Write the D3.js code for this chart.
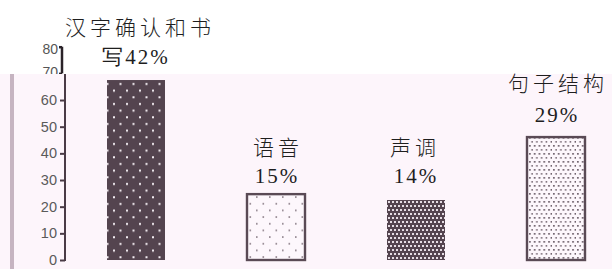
<!DOCTYPE html>
<html><head><meta charset="utf-8">
<script src="https://cdn.jsdelivr.net/npm/d3@7"></script>
<style>html,body{margin:0;padding:0;background:#fff;}svg{display:block;}</style>
</head><body>
<script>
const categories = ["汉字确认和书写", "语音", "声调", "句子结构"];
const values = [67.5, 24.7, 22.5, 46.1];
const labelLine1 = ["汉字确认和书", "语音", "声调", "句子结构"];
const labelLine2 = ["写42%", "15%", "14%", "29%"];
const ticksLower = [0, 10, 20, 30, 40, 50, 60];
const ticksUpper = [70, 80];

const W = 612, H = 269;
const svg = d3.select("body").append("svg").attr("width", W).attr("height", H);
const defs = svg.append("defs");
const dark = "#54444f", pale = "#fdf7fc";

function pat(id, w, h, bg, fg, dots, r) {
  const p = defs.append("pattern").attr("id", id).attr("patternUnits", "userSpaceOnUse")
    .attr("width", w).attr("height", h);
  p.append("rect").attr("width", w).attr("height", h).attr("fill", bg);
  dots.forEach(d => p.append("rect").attr("x", d[0]).attr("y", d[1]).attr("width", r).attr("height", r).attr("fill", fg));
}
pat("p1", 13, 13.33, dark, "#f4eef3", [[2.5, 3], [9, 9.67]], 2);
pat("p2", 13, 13.33, pale, "#8a7d87", [[2.5, 3], [9, 9.67]], 1.6);
pat("p3", 4, 8, dark, "#e6dde4", [[0, 1], [2, 5]], 2);
pat("p4", 4.8, 8, pale, "#6f616c", [[1, 1], [3.4, 5]], 1.7);
const fills = ["url(#p1)", "url(#p2)", "url(#p3)", "url(#p4)"];
const strokes = [null, "#5a4a55", null, "#5a4a55"];

svg.append("rect").attr("width", W).attr("height", H).attr("fill", "#ffffff");

const y = d3.scaleLinear().domain([0, 80]).range([260, 46.7]);
const x = d3.scalePoint().domain(categories).range([136, 556]);
const bw = 58;

// upper broken axis segment (70-80)
const upper = svg.append("g").attr("transform", "translate(62,0)")
  .call(d3.axisLeft(y).tickValues(ticksUpper).tickSize(4).tickPadding(6).tickSizeOuter(0));
upper.select(".domain").remove();
upper.append("line").attr("x1", 0).attr("x2", 0).attr("y1", y(80)).attr("y2", y(70)).attr("stroke", "#2a2228").attr("stroke-width", 2.5);
upper.selectAll(".tick line").attr("stroke", "#2a2228").attr("stroke-width", 2.5).attr("x2", -3);
upper.selectAll(".tick text").attr("fill", "#555").style("font-family", "Liberation Sans, Arial, sans-serif").style("font-size", "14px").attr("x", -4)
  .attr("dy", d => d === 80 ? "0.5em" : "0.2em");

// pink plot background
svg.append("rect").attr("x", 0).attr("y", 74).attr("width", W).attr("height", H - 74).attr("fill", "#fdf5fb");
svg.append("rect").attr("x", 10).attr("y", 74).attr("width", 4).attr("height", H - 74).attr("fill", "#c6b4c1");

// lower axis
const lower = svg.append("g").attr("transform", "translate(65,0)")
  .call(d3.axisLeft(y).tickValues(ticksLower).tickSize(5).tickPadding(3).tickSizeOuter(0));
lower.select(".domain").remove();
lower.append("line").attr("x1", 0).attr("x2", 0).attr("y1", 74).attr("y2", y(0) + 1).attr("stroke", "#4a3b46").attr("stroke-width", 2);
lower.selectAll(".tick line").attr("stroke", "#4a3b46").attr("stroke-width", 2);
lower.selectAll(".tick text").attr("fill", "#5a5a5a").style("font-family", "Liberation Sans, Arial, sans-serif").style("font-size", "14.5px");

// bars
svg.append("g").selectAll("rect").data(categories).join("rect")
  .attr("x", d => x(d) - bw / 2)
  .attr("y", (d, i) => y(values[i]))
  .attr("width", bw)
  .attr("height", (d, i) => y(0) - y(values[i]))
  .attr("fill", (d, i) => fills[i])
  .attr("stroke", (d, i) => strokes[i] || "none")
  .attr("stroke-width", 2.4);

// labels
const base1 = [35, 155, 155, 91];
const base2 = [64, 183, 183, 122];
const dx1 = [4, 2, -1, 2];
const dx2 = [0, 1, 0, 1];
const lab = svg.append("g").attr("fill", "#1e1e1e").attr("text-anchor", "middle");
lab.selectAll("text.l1").data(categories).join("text").attr("class", "l1")
  .attr("x", (d, i) => x(d) + dx1[i])
  .attr("y", (d, i) => base1[i])
  .style("font-family", "Noto Sans CJK SC, sans-serif").style("font-size", "21px").style("font-weight", 300)
  .style("letter-spacing", "4px")
  .text((d, i) => labelLine1[i]);
lab.selectAll("text.l2").data(categories).join("text").attr("class", "l2")
  .attr("x", (d, i) => x(d) + dx2[i])
  .attr("y", (d, i) => base2[i])
  .style("font-family", "Liberation Serif, Times New Roman, serif").style("font-size", "21px")
  .style("letter-spacing", "2px")
  .text((d, i) => labelLine2[i]);
</script>
</body></html>
